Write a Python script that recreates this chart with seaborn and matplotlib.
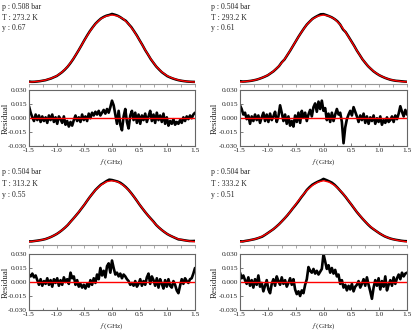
import numpy as np
import matplotlib
matplotlib.use("Agg")
import matplotlib.pyplot as plt
import seaborn as sns
from matplotlib.ticker import MultipleLocator, FormatStrFormatter

# frequency grids (GHz)
FREQ_DATA = np.linspace(-1.5, 1.5, 61)
FREQ_FIT = np.linspace(-1.5, 1.5, 31)
FREQ_RES = np.linspace(-1.5, 1.5, 101)

PRESSURE = ["0.508", "0.504", "0.504", "0.504"]
TEMPERATURE = ["273.2", "293.2", "313.2", "333.2"]
Y_PARAM = ["0.67", "0.61", "0.55", "0.51"]

# measured spectra (normalised)
DATA_273 = [0.030, 0.026, 0.027, 0.031, 0.036, 0.043, 0.050, 0.063, 0.075, 0.093,
            0.110, 0.138, 0.168, 0.205, 0.248, 0.300, 0.358, 0.423, 0.490, 0.560,
            0.632, 0.700, 0.764, 0.820, 0.872, 0.912, 0.948, 0.972, 0.990, 1.000,
            1.015, 1.004, 0.990, 0.968, 0.940, 0.915, 0.868, 0.822, 0.762, 0.700,
            0.630, 0.562, 0.488, 0.424, 0.357, 0.302, 0.248, 0.206, 0.166, 0.137,
            0.108, 0.090, 0.074, 0.061, 0.050, 0.042, 0.036, 0.031, 0.028, 0.026, 0.025]
DATA_293 = [0.036, 0.030, 0.032, 0.036, 0.041, 0.049, 0.058, 0.071, 0.086, 0.103,
            0.122, 0.150, 0.178, 0.215, 0.254, 0.310, 0.352, 0.415, 0.478, 0.546,
            0.614, 0.682, 0.745, 0.805, 0.860, 0.902, 0.942, 0.968, 0.990, 1.010,
            1.012, 0.998, 0.983, 0.965, 0.940, 0.908, 0.860, 0.790, 0.748, 0.684,
            0.618, 0.552, 0.480, 0.418, 0.354, 0.303, 0.254, 0.215, 0.178, 0.149,
            0.123, 0.103, 0.085, 0.070, 0.057, 0.048, 0.041, 0.038, 0.034, 0.030, 0.027]
DATA_313 = [0.028, 0.028, 0.034, 0.040, 0.047, 0.055, 0.066, 0.082, 0.100, 0.122,
            0.146, 0.176, 0.210, 0.248, 0.290, 0.342, 0.392, 0.444, 0.497, 0.556,
            0.614, 0.678, 0.740, 0.796, 0.852, 0.896, 0.938, 0.965, 0.995, 1.018,
            1.012, 1.000, 0.988, 0.968, 0.936, 0.898, 0.852, 0.798, 0.740, 0.678,
            0.614, 0.555, 0.498, 0.444, 0.394, 0.345, 0.290, 0.248, 0.210, 0.176,
            0.145, 0.121, 0.100, 0.080, 0.060, 0.055, 0.047, 0.040, 0.034, 0.034, 0.036]
DATA_333 = [0.030, 0.027, 0.036, 0.043, 0.052, 0.061, 0.073, 0.088, 0.104, 0.132,
            0.162, 0.193, 0.224, 0.262, 0.302, 0.348, 0.395, 0.445, 0.500, 0.558,
            0.612, 0.670, 0.733, 0.790, 0.852, 0.898, 0.937, 0.963, 0.986, 1.005,
            1.030, 1.012, 0.992, 0.970, 0.935, 0.890, 0.840, 0.790, 0.736, 0.676,
            0.618, 0.557, 0.497, 0.444, 0.392, 0.344, 0.297, 0.255, 0.222, 0.191,
            0.160, 0.133, 0.108, 0.090, 0.074, 0.062, 0.053, 0.046, 0.038, 0.033, 0.031]

# model fits
FIT_273 = [0.022, 0.028, 0.037, 0.052, 0.077, 0.112, 0.17, 0.25, 0.36, 0.49, 0.63,
           0.76, 0.87, 0.945, 0.985, 1.0, 0.985, 0.945, 0.87, 0.76, 0.63, 0.49,
           0.36, 0.25, 0.17, 0.112, 0.077, 0.052, 0.037, 0.028, 0.022]
FIT_293 = [0.024, 0.031, 0.042, 0.058, 0.086, 0.124, 0.18, 0.255, 0.355, 0.48, 0.615,
           0.745, 0.86, 0.94, 0.983, 1.0, 0.983, 0.94, 0.86, 0.745, 0.615, 0.48,
           0.355, 0.255, 0.18, 0.124, 0.086, 0.058, 0.042, 0.031, 0.024]
FIT_313 = [0.022, 0.032, 0.046, 0.065, 0.100, 0.146, 0.21, 0.29, 0.39, 0.50, 0.616,
           0.74, 0.85, 0.93, 0.984, 1.0, 0.984, 0.93, 0.85, 0.74, 0.616, 0.50,
           0.39, 0.29, 0.21, 0.146, 0.100, 0.065, 0.046, 0.032, 0.022]
FIT_333 = [0.021, 0.034, 0.051, 0.073, 0.11, 0.16, 0.225, 0.30, 0.395, 0.50, 0.62,
           0.74, 0.845, 0.925, 0.978, 1.0, 0.978, 0.925, 0.845, 0.74, 0.62, 0.50,
           0.395, 0.30, 0.225, 0.16, 0.11, 0.073, 0.051, 0.034, 0.021]

# residuals
RES_273 = [0.013, 0.006, 0.001, -0.003, 0.004, -0.002, 0.003, -0.004, 0.002, -0.003,
           0.001, -0.005, 0.003, -0.002, 0.004, -0.004, 0.001, -0.006, 0.002, -0.001,
           -0.005, 0.002, -0.007, -0.003, -0.009, -0.004, -0.008, -0.002, 0.003, -0.003,
           0.001, -0.004, 0.004, -0.002, 0.002, -0.003, 0.005, 0.000, 0.006, 0.003,
           0.007, 0.004, 0.008, 0.003, 0.006, 0.009, 0.005, 0.010, 0.006, 0.012,
           0.019, 0.014, 0.004, -0.006, 0.008, -0.007, -0.013, 0.002, 0.010, -0.004,
           -0.011, 0.003, 0.008, -0.002, 0.006, -0.005, 0.004, -0.006, 0.003, -0.002,
           0.005, -0.004, 0.002, 0.008, -0.003, 0.004, -0.005, 0.006, -0.002, 0.003,
           -0.004, 0.005, -0.006, 0.001, -0.008, -0.003, -0.006, -0.001, -0.007, -0.004,
           -0.006, -0.002, -0.005, 0.001, -0.003, 0.002, -0.001, 0.003, 0.000, 0.004, 0.006]
RES_293 = [0.014, 0.010, 0.004, 0.006, -0.001, 0.003, -0.006, 0.002, -0.003, 0.004,
           -0.002, 0.003, -0.005, 0.001, 0.006, -0.003, 0.004, -0.004, 0.005, -0.002,
           0.002, 0.007, -0.004, 0.002, 0.014, 0.006, -0.003, 0.004, -0.006, 0.002,
           -0.008, -0.003, -0.009, 0.003, -0.004, 0.006, -0.005, 0.008, 0.001, 0.006,
           -0.003, 0.004, 0.009, 0.002, 0.012, 0.016, 0.007, 0.018, 0.010, 0.019,
           0.008, 0.011, -0.002, 0.005, -0.004, 0.006, -0.003, 0.004, 0.010, 0.004,
           0.006, -0.004, -0.027, -0.010, -0.001, 0.004, 0.008, 0.003, 0.012, 0.007,
           0.002, -0.004, 0.003, -0.002, 0.005, -0.005, 0.002, -0.006, 0.001, -0.003,
           0.003, -0.006, 0.000, -0.004, 0.002, -0.007, -0.002, -0.005, 0.001, -0.004,
           -0.002, 0.002, -0.004, 0.003, -0.001, 0.005, 0.013, 0.007, 0.002, 0.009, 0.004]
RES_313 = [0.008, 0.006, 0.009, 0.005, 0.007, 0.002, -0.003, 0.003, -0.004, 0.001,
           -0.002, 0.004, -0.003, 0.002, -0.005, 0.003, -0.001, 0.004, -0.004, 0.002,
           -0.003, 0.005, 0.000, 0.003, -0.002, 0.010, 0.004, 0.006, -0.003, 0.002,
           -0.005, -0.002, -0.006, -0.003, -0.007, -0.002, -0.005, 0.002, -0.003, 0.004,
           -0.001, 0.008, 0.003, 0.015, 0.007, 0.012, 0.005, 0.017, 0.020, 0.010,
           0.023, 0.015, 0.008, 0.010, 0.006, 0.009, 0.004, 0.008, 0.006, 0.003,
           0.001, -0.003, -0.001, -0.004, 0.001, -0.005, -0.002, 0.003, -0.004, 0.001,
           -0.003, 0.005, 0.009, -0.002, 0.006, 0.002, -0.004, 0.004, -0.006, 0.003,
           -0.002, -0.007, 0.002, -0.005, 0.003, -0.004, -0.006, 0.001, -0.003, -0.009,
           -0.012, -0.004, 0.003, -0.002, 0.004, 0.001, -0.001, 0.003, 0.004, 0.009, 0.015]
RES_333 = [0.010, 0.004, 0.007, 0.002, -0.002, 0.005, -0.004, 0.002, -0.006, 0.003,
           -0.003, 0.007, -0.005, -0.001, -0.010, -0.004, 0.002, -0.008, -0.012, -0.002,
           0.003, -0.004, 0.006, 0.001, -0.003, 0.005, -0.002, 0.002, -0.005, -0.001,
           0.004, -0.003, 0.003, -0.008, -0.013, -0.010, -0.015, -0.009, -0.012, -0.003,
           0.003, 0.016, 0.012, 0.010, 0.014, 0.009, 0.012, 0.008, 0.011, 0.014,
           0.030, 0.022, 0.014, 0.018, 0.010, 0.015, 0.009, 0.013, 0.006, 0.008,
           -0.002, 0.002, -0.006, -0.003, -0.009, -0.004, -0.008, -0.002, -0.010, -0.005,
           -0.003, 0.001, -0.006, -0.002, 0.003, -0.004, 0.005, -0.003, -0.010, -0.018,
           -0.006, 0.002, -0.004, 0.004, -0.008, 0.001, -0.005, 0.006, -0.009, -0.003,
           0.002, -0.004, 0.005, -0.002, 0.004, 0.008, 0.003, 0.010, 0.006, 0.009, 0.010]

DATA = [DATA_273, DATA_293, DATA_313, DATA_333]
FITS = [FIT_273, FIT_293, FIT_313, FIT_333]
RESIDUALS = [RES_273, RES_293, RES_313, RES_333]

sns.set_style("ticks")
plt.rcParams['font.family'] = ['Liberation Serif', 'DejaVu Serif']
plt.rcParams['mathtext.fontset'] = 'stix'
plt.rcParams['axes.unicode_minus'] = False

W, H = 415, 332
fig = plt.figure(figsize=(W / 100, H / 100), dpi=100)

# pixel layout: column lefts/widths, row tops
col_left = [29, 240]
col_width = [166, 167]
# (upper top, upper bottom, resid top, resid bottom, ylim of upper)
rows = [(5, 84.3, 90.5, 146, (-0.01, 1.145)),
        (168, 245, 254, 310, (-0.03, 1.204))]
text_x = [2, 211]
ylabel_x = [5.5, 214.5]
text_y = [(7, 17.5, 28), (172, 183.5, 195)]

for i in range(4):
    r, c = divmod(i, 2)
    top_u, bot_u, top_r, bot_r, ylim_u = rows[r]
    x0 = col_left[c] / W
    w = col_width[c] / W

    # upper: spectrum + fit
    ax = fig.add_axes([x0, 1 - bot_u / H, w, (bot_u - top_u) / H])
    sns.lineplot(x=FREQ_DATA, y=DATA[i], ax=ax, color='black', lw=1.8)
    sns.lineplot(x=FREQ_FIT, y=FITS[i], ax=ax, color='red', lw=1.0)
    ax.set_xlim(-1.5, 1.5)
    ax.set_ylim(*ylim_u)
    for s in ['top', 'right', 'left']:
        ax.spines[s].set_visible(False)
    ax.spines['bottom'].set_color('#999999')
    ax.spines['bottom'].set_linewidth(0.8)
    ax.set_yticks([])
    ax.xaxis.set_major_locator(MultipleLocator(0.5))
    ax.xaxis.set_minor_locator(MultipleLocator(0.25))
    ax.tick_params(axis='x', which='both', direction='out', length=2, width=0.6,
                   color='#999999', labelbottom=False)
    ax.set_xlabel('')
    ax.set_ylabel('')

    # lower: residuals
    axr = fig.add_axes([x0, 1 - bot_r / H, w, (bot_r - top_r) / H])
    sns.lineplot(x=FREQ_RES, y=RESIDUALS[i], ax=axr, color='black', lw=1.9)
    axr.axhline(0, color='red', lw=1.0)
    axr.set_xlim(-1.5, 1.5)
    axr.set_ylim(-0.03, 0.03)
    axr.xaxis.set_major_locator(MultipleLocator(0.5))
    axr.xaxis.set_minor_locator(MultipleLocator(0.25))
    axr.yaxis.set_major_locator(MultipleLocator(0.015))
    axr.xaxis.set_major_formatter(FormatStrFormatter('%.1f'))
    axr.yaxis.set_major_formatter(FormatStrFormatter('%.3f'))
    for s in axr.spines.values():
        s.set_color('#666666')
        s.set_linewidth(0.8)
    axr.tick_params(which='both', direction='in', width=0.6, color='#666666',
                    labelsize=5.3, pad=1.5)
    axr.tick_params(which='major', length=2.5)
    axr.tick_params(which='minor', length=1.5)
    axr.set_xlabel('$f$ (GHz)', fontsize=5.2, labelpad=3)
    axr.set_ylabel('Residual', fontsize=6.4, ha='center', va='center')
    axr.yaxis.set_label_coords((ylabel_x[c] - col_left[c]) / col_width[c], 0.5)

    lines = ['p : %s bar' % PRESSURE[i], 'T : %s K' % TEMPERATURE[i], 'y : %s' % Y_PARAM[i]]
    for txt, ty in zip(lines, text_y[r]):
        fig.text(text_x[c] / W, 1 - ty / H, txt, fontsize=5.6, ha='left', va='center')

fig.savefig('out.png', dpi=100)
